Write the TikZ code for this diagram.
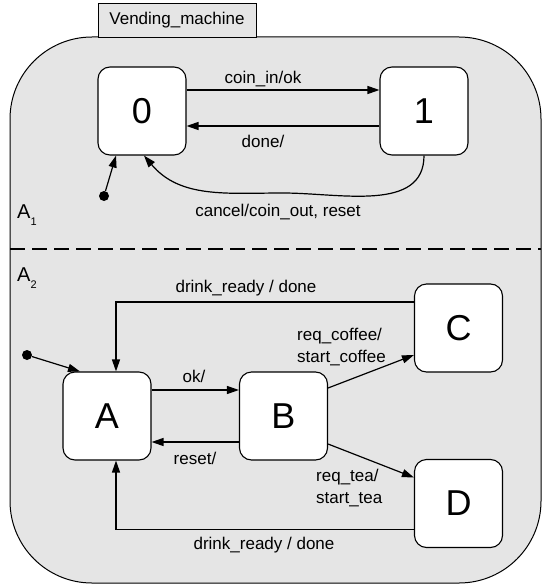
\documentclass[tikz,border=0pt]{standalone}
\usepackage{fontspec}
\setmainfont{Liberation Sans}
\usepackage{tikz}
\usetikzlibrary{arrows.meta}

\tikzset{
  state/.style={draw, fill=white, line width=1.1pt, rounded corners=12pt,
    minimum width=88pt, minimum height=88pt, inner sep=0pt,
    font=\fontsize{36}{36}\selectfont},
  trans/.style={line width=1.2pt, -{Triangle[length=12pt,width=8pt]}},
  lbl/.style={inner sep=0pt, font=\fontsize{17}{22}\selectfont},
  initdot/.style={circle, fill=black, inner sep=0pt, minimum size=10pt},
  region/.style={inner sep=0pt, font=\fontsize{20}{20}\selectfont}
}

\begin{document}
\begin{tikzpicture}[x=1pt,y=-1pt]
  \useasboundingbox (0,0) rectangle (542,585);
  \draw[fill=black!10, line width=1pt, rounded corners=82pt] (10,37) rectangle (541,583);
  \node (tab) at (177,20) [draw, fill=black!10, line width=0.8pt, minimum width=158pt,
    minimum height=34pt, inner sep=0pt, font=\fontsize{17}{17}\selectfont] {Vending\_machine};
  \draw[line width=2pt, dash pattern=on 15pt off 7pt] (10,249) -- (541,249);

  \node (a1) at (17,215) [region, anchor=west] {A\raisebox{-7pt}{\fontsize{11}{11}\selectfont 1}};
  \node (a2) at (17,278) [region, anchor=west] {A\raisebox{-7pt}{\fontsize{11}{11}\selectfont 2}};

  \node (s0) at (142,111) [state] {0};
  \node (s1) at (424,111) [state] {1};
  \node (i1) at (104,196) [initdot] {};
  \coordinate (dip) at (283,193);

  \draw[trans] ([yshift=21pt]s0.east) -- ([yshift=21pt]s1.west);
  \draw[trans] ([yshift=-15pt]s1.west) -- ([yshift=-15pt]s0.east);
  \draw[trans] (s1.south) to[out=-90,in=0] (dip) to[out=180,in=-50] ([xshift=2pt]s0.south);
  \draw[trans] (i1) -- ([xshift=-26pt]s0.south);
  \node (l1) at (263,79) [lbl] {coin\_in/ok};
  \node (l2) at (263,141) [lbl] {done/};
  \node (l3) at (278,212) [lbl] {cancel/coin\_out, reset};

  \node (A) at (107,416) [state] {A};
  \node (B) at (283.5,416) [state] {B};
  \node (C) at (458.5,328) [state] {C};
  \node (D) at (458.5,503.5) [state] {D};
  \node (i2) at (27,355) [initdot] {};

  \draw[trans] (i2) -- ([xshift=-27pt]A.north);
  \draw[trans] ([yshift=26pt]A.east) -- ([yshift=26pt]B.west);
  \draw[trans] ([yshift=-26pt]B.west) -- ([yshift=-26pt]A.east);
  \draw[trans] ([yshift=28pt]B.east) -- ([yshift=-27pt]C.west);
  \draw[trans] ([yshift=-28pt]B.east) -- ([yshift=26pt]D.west);
  \draw[trans] ([yshift=26pt]C.west) -| ([xshift=9pt]A.north);
  \draw[trans] ([yshift=-26pt]D.west) -| ([xshift=9pt]A.south);
  \node (l4) at (194,376) [lbl] {ok/};
  \node (l5) at (195,458) [lbl] {reset/};
  \node (l6) at (297,347) [lbl, anchor=west, align=left] {req\_coffee/\\start\_coffee};
  \node (l7) at (316,488) [lbl, anchor=west, align=left] {req\_tea/\\start\_tea};
  \node (l8) at (246,288) [lbl] {drink\_ready / done};
  \node (l9) at (264,545) [lbl] {drink\_ready / done};
\end{tikzpicture}
\end{document}
